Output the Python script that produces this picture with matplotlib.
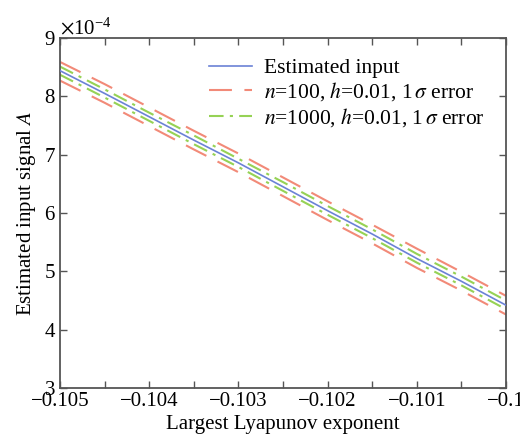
import matplotlib
matplotlib.use("Agg")
import matplotlib.pyplot as plt
import numpy as np
from matplotlib.ticker import MultipleLocator, ScalarFormatter

plt.rcParams['font.family'] = ['Liberation Serif', 'DejaVu Serif']
plt.rcParams['mathtext.fontset'] = 'stix'

lyap = [-0.105, -0.1045, -0.104, -0.1035, -0.103, -0.1025, -0.102, -0.1015, -0.101, -0.1005, -0.1]
est = [8.44, 8.05, 7.65, 7.25, 6.86, 6.45, 6.04, 5.64, 5.22, 4.83, 4.42]
red_up = [8.59, 8.21, 7.81, 7.41, 7.02, 6.61, 6.20, 5.80, 5.39, 4.99, 4.58]
red_lo = [8.27, 7.89, 7.49, 7.09, 6.70, 6.29, 5.88, 5.48, 5.06, 4.67, 4.26]
grn_up = [8.51, 8.12, 7.72, 7.33, 6.93, 6.53, 6.12, 5.72, 5.30, 4.91, 4.50]
grn_lo = [8.37, 7.98, 7.58, 7.18, 6.79, 6.38, 5.97, 5.57, 5.15, 4.76, 4.35]
scale = 1e-4

x_ticks = [-0.105, -0.104, -0.103, -0.102, -0.101, -0.1]
x_labels = ['\u22120.105', '\u22120.104', '\u22120.103', '\u22120.102', '\u22120.101', '\u22120.1']

blue = '#6b82d6'
red = '#f28a78'
green = '#96d255'

fig = plt.figure(figsize=(5.2, 4.37), dpi=100)
ax = fig.add_axes([0.1154, 0.1121, 0.973 - 0.1154, 0.913 - 0.1121])

s = lambda v: np.array(v) * scale
ax.plot(lyap, s(est), color=blue, lw=1.2, zorder=5, label='Estimated input')
ax.plot(lyap, s(red_up), color=red, lw=1.5, dashes=(11, 6), label=r'$n$=100, $h$=0.01, 1$\,\sigma$ error')
ax.plot(lyap, s(red_lo), color=red, lw=1.5, dashes=(11, 6))
ax.plot(lyap, s(grn_up), color=green, lw=1.5, dashes=(7, 3, 1.5, 3), label=r'$n$=1000, $h$=0.01, 1$\,\sigma$ error')
ax.plot(lyap, s(grn_lo), color=green, lw=1.5, dashes=(7, 3, 1.5, 3))

ax.set_xlim(-0.105, -0.1)
ax.set_ylim(3e-4, 9e-4)
ax.set_xticks(x_ticks)
ax.set_xticklabels(x_labels)
ax.xaxis.set_minor_locator(MultipleLocator(0.0005))
ax.yaxis.set_major_locator(MultipleLocator(1e-4))
fmt = ScalarFormatter(useMathText=True)
fmt.set_powerlimits((-3, 3))
ax.yaxis.set_major_formatter(fmt)

for sp in ax.spines.values():
    sp.set_color('#555555')
    sp.set_linewidth(1.3)
ax.tick_params(which='both', direction='in', top=True, right=True, labelsize=15,
               color='#555555', width=1.0, pad=3)
ax.tick_params(which='major', length=5)
ax.tick_params(which='minor', length=5)
ax.yaxis.get_offset_text().set_fontsize(15)

ax.set_xlabel('Largest Lyapunov exponent', fontsize=15, labelpad=3)
ax.set_ylabel(r'Estimated input signal $A$', fontsize=15, labelpad=4)

ax.legend(loc='upper left', bbox_to_anchor=(0.30, 0.985), frameon=False, fontsize=15.5,
          handlelength=2.0, handletextpad=0.55, labelspacing=0.1, borderaxespad=0.3)

fig.savefig('out.png', dpi=100)
